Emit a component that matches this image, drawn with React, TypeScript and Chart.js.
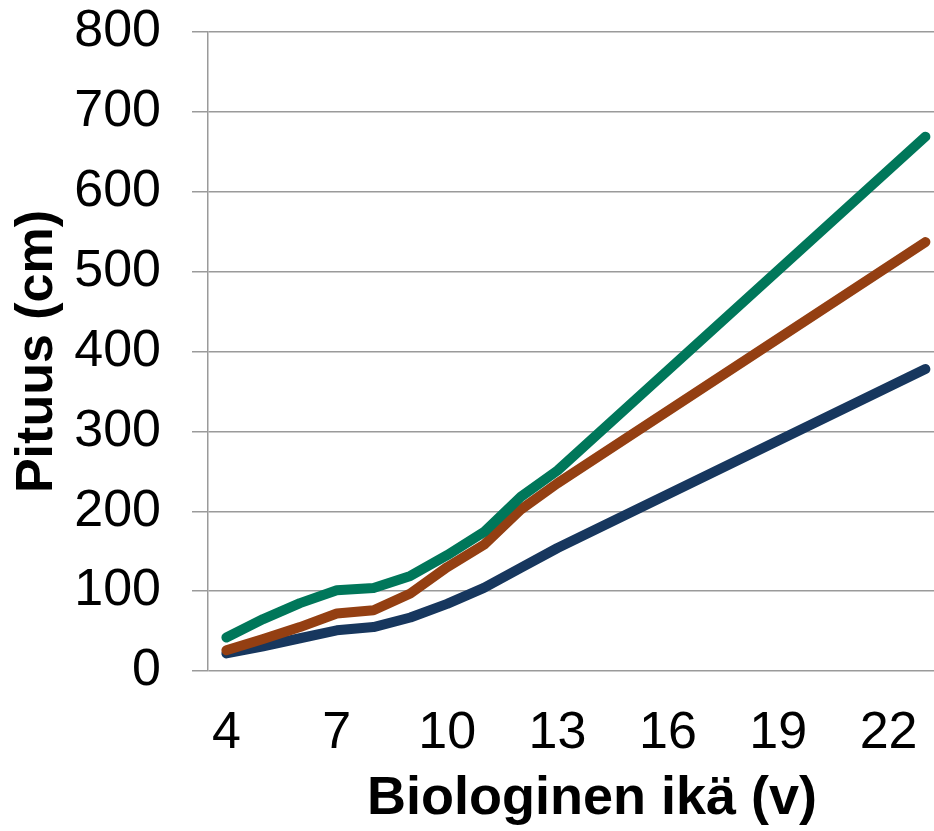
import React, { useEffect, useRef } from "react";
import { Chart, registerables } from "chart.js";

Chart.register(...registerables);

const ages = [4, 5, 6, 7, 8, 9, 10, 11, 12, 13, 23];
const greenSeries = [42, 65, 85, 101, 104, 119, 145, 174, 218, 251, 669];
const orangeSeries = [26, 40, 55, 72, 76, 97, 130, 158, 202, 235, 537];
const navySeries = [22, 31, 41, 51, 55, 67, 84, 104, 129, 154, 378];
const xTickValues = [4, 7, 10, 13, 16, 19, 22];
const xTitle = "Biologinen ikä (v)";
const yTitle = "Pituus (cm)";

const FONT = "'Liberation Sans', Arial, sans-serif";
const CANVAS_W = 976;
const CANVAS_H = 831;

export default function App() {
  const ref = useRef<HTMLCanvasElement | null>(null);

  useEffect(() => {
    document.body.style.margin = "0";
    const canvas = ref.current!;
    const toPts = (vals: number[]) => ages.map((a, i) => ({ x: a, y: vals[i] }));
    const common = {
      borderWidth: 10,
      pointRadius: 0,
      pointHoverRadius: 0,
      tension: 0,
      borderCapStyle: "round" as const,
      borderJoinStyle: "round" as const,
      fill: false,
    };
    const chart = new Chart(canvas, {
      type: "line",
      data: {
        datasets: [
          { ...common, label: "A", data: toPts(greenSeries), borderColor: "#00775A", backgroundColor: "#00775A" },
          { ...common, label: "B", data: toPts(orangeSeries), borderColor: "#943F12", backgroundColor: "#943F12" },
          { ...common, label: "C", data: toPts(navySeries), borderColor: "#17375E", backgroundColor: "#17375E" },
        ],
      },
      options: {
        animation: false,
        responsive: false,
        maintainAspectRatio: false,
        layout: { padding: { top: 32, right: 0, left: 0, bottom: 0 } },
        plugins: { legend: { display: false }, tooltip: { enabled: false } },
        scales: {
          x: {
            type: "linear",
            min: 3.5,
            max: 24.375,
            grid: { display: false },
            border: { display: false },
            afterBuildTicks: (scale: any) => {
              scale.ticks = xTickValues.map((v) => ({ value: v }));
            },
            afterFit: (scale: any) => {
              scale.height = 160;
              scale.paddingLeft = 0;
              scale.paddingRight = 0;
            },
            ticks: {
              autoSkip: false,
              maxRotation: 0,
              padding: 23,
              color: "#000",
              font: { family: FONT, size: 52 },
              callback: (v: any) => String(v),
            },
            title: {
              display: true,
              text: xTitle,
              color: "#000",
              font: { family: FONT, size: 54, weight: "bold" },
              padding: { top: 0, bottom: -1 },
            },
          },
          y: {
            type: "linear",
            min: 0,
            max: 800,
            afterFit: (scale: any) => {
              scale.width = 208;
              scale.paddingTop = 0;
              scale.paddingBottom = 0;
            },
            grid: {
              color: "#9a9a9a",
              lineWidth: 1.5,
              tickLength: 16,
              drawTicks: true,
            },
            border: { display: true, color: "#9a9a9a", width: 1.5 },
            ticks: {
              stepSize: 100,
              padding: 31,
              color: "#000",
              font: { family: FONT, size: 52 },
            },
            title: {
              display: true,
              text: yTitle,
              color: "#000",
              font: { family: FONT, size: 52, weight: "bold" },
              padding: { top: 6, bottom: 0 },
            },
          },
        },
      },
    });
    return () => chart.destroy();
  }, []);

  return (
    <div style={{ width: 934, height: CANVAS_H, overflow: "hidden", position: "relative" }}>
      <canvas
        ref={ref}
        width={CANVAS_W}
        height={CANVAS_H}
        style={{ display: "block", width: CANVAS_W, height: CANVAS_H }}
      />
    </div>
  );
}
